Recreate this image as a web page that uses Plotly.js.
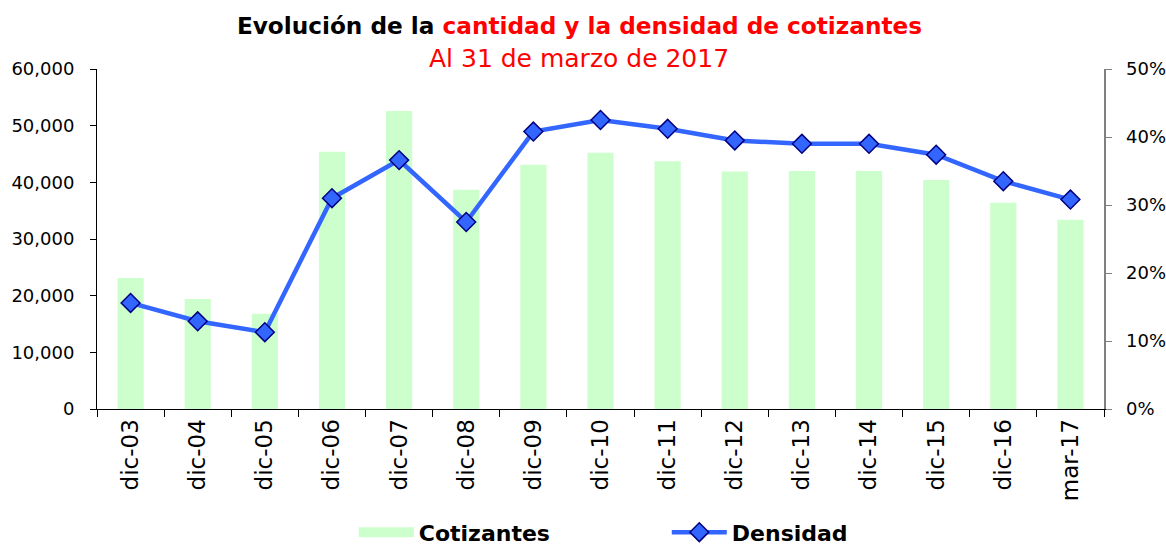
<!DOCTYPE html>
<html><head><meta charset="utf-8">
<script src="https://cdn.plot.ly/plotly-3.0.1.min.js"></script>
<style>html,body{margin:0;padding:0;background:#fff}#chart{width:1166px;height:546px}</style>
</head><body><div id="chart"></div>
<script>
const categories = ['dic-03','dic-04','dic-05','dic-06','dic-07','dic-08','dic-09','dic-10','dic-11','dic-12','dic-13','dic-14','dic-15','dic-16','mar-17'];
const cotizantes = [23100, 19400, 16800, 45400, 52600, 38700, 43100, 45200, 43700, 41900, 42000, 42000, 40400, 36400, 33400];
const densidad = [0.156, 0.129, 0.113, 0.310, 0.366, 0.275, 0.408, 0.425, 0.412, 0.395, 0.390, 0.390, 0.374, 0.335, 0.308];
const leftTickVals = [0, 10000, 20000, 30000, 40000, 50000, 60000];
const rightTickVals = [0, 0.1, 0.2, 0.3, 0.4, 0.5];

const FONT = '"DejaVu Sans", sans-serif';

const traces = [
  {type:'bar', name:'Cotizantes', x:categories, y:cotizantes, width:0.39,
   marker:{color:'#ccffcc', line:{width:0}}, xaxis:'x', yaxis:'y', hoverinfo:'skip', showlegend:false},
  // legend swatch for the bars (wide rectangle, as in the reference legend)
  {type:'scatter', mode:'lines', name:'Cotizantes', x:[null], y:[null],
   line:{color:'#ccffcc', width:15}, xaxis:'x', yaxis:'y', hoverinfo:'skip', showlegend:true},
  {type:'scatter', mode:'lines+markers', name:'Densidad', x:categories, y:densidad,
   line:{color:'#3366ff', width:4.5},
   marker:{symbol:'diamond', size:14.5, color:'#3366ff', line:{color:'#000080', width:1.5}},
   xaxis:'x', yaxis:'y2', hoverinfo:'skip'}
];

const layout = {
  width:1166, height:546,
  margin:{l:97, r:62, t:69, b:137, pad:0, autoexpand:false},
  paper_bgcolor:'#ffffff', plot_bgcolor:'#ffffff',
  font:{family:FONT, size:18, color:'#000'},
  showlegend:true,
  title:{
    text:'<b>Evolución de la <span style="color:#ff0000">cantidad y la densidad de cotizantes</span></b>',
    font:{family:FONT, size:23.2, color:'#000'},
    xref:'container', x:0.497, xanchor:'center',
    yref:'container', y:0.952, yanchor:'middle'
  },
  annotations:[{
    text:'Al 31 de marzo de 2017', showarrow:false,
    xref:'paper', yref:'paper', x:0.4785, y:1.031, xanchor:'center', yanchor:'middle',
    font:{family:FONT, size:25, color:'#ff0000'}
  }],
  xaxis:{
    type:'category', range:[-0.5, 14.5], tickson:'boundaries',
    ticks:'outside', ticklen:7, tickcolor:'#000', tickwidth:1,
    showline:true, linecolor:'#000', linewidth:1, mirror:false,
    showgrid:false, zeroline:false, tickangle:-90,
    tickfont:{family:FONT, size:23, color:'#000'}, fixedrange:true
  },
  xaxis2:{
    overlaying:'x', anchor:'y', range:[-0.5, 14.5], tick0:-0.5, dtick:1,
    ticks:'inside', ticklen:7, tickcolor:'#000', showticklabels:false,
    showline:false, showgrid:false, zeroline:false, side:'bottom'
  },
  yaxis:{
    range:[0, 60000], tickvals:leftTickVals, tickformat:',d',
    ticks:'outside', ticklen:6, tickcolor:'#000', ticklabelstandoff:12,
    showline:true, linecolor:'#000', linewidth:1,
    showgrid:false, zeroline:false,
    tickfont:{family:FONT, size:18, color:'#000'}, fixedrange:true
  },
  yaxis3:{
    overlaying:'y', anchor:'x', side:'left', range:[0, 60000], tickvals:leftTickVals,
    ticks:'inside', ticklen:6, tickcolor:'#000', showticklabels:false,
    showline:false, showgrid:false, zeroline:false
  },
  yaxis2:{
    overlaying:'y', anchor:'x', side:'right', range:[0, 0.5], tickvals:rightTickVals, tickformat:'.0%',
    ticks:'outside', ticklen:6, tickcolor:'#808080', ticklabelstandoff:11,
    showline:true, linecolor:'#808080', linewidth:1.5,
    showgrid:false, zeroline:false,
    tickfont:{family:FONT, size:18, color:'#000'}, fixedrange:true
  },
  yaxis4:{
    overlaying:'y', anchor:'x', side:'right', range:[0, 0.5], tickvals:rightTickVals,
    ticks:'inside', ticklen:6, tickcolor:'#808080', showticklabels:false,
    showline:false, showgrid:false, zeroline:false
  },
  legend:{
    orientation:'h', x:0.255, xanchor:'left', yref:'container', y:0.025, yanchor:'middle',
    font:{family:FONT, size:22, color:'#000', weight:'bold'},
    itemwidth:55, entrywidth:243, bgcolor:'rgba(0,0,0,0)', traceorder:'normal'
  },
  bargap:0.61
};

Plotly.newPlot('chart', traces, layout, {staticPlot:true, displayModeBar:false});
</script></body></html>
